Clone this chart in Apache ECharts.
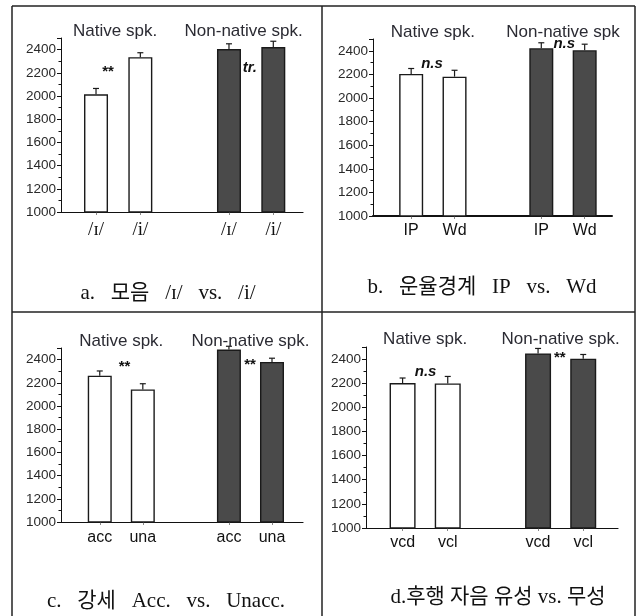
<!DOCTYPE html>
<html>
<head>
<meta charset="utf-8">
<script src="https://cdn.jsdelivr.net/npm/echarts@6/dist/echarts.min.js"></script>
<style>
  html, body { margin: 0; padding: 0; background: #fff; }
  #chart { width: 640px; height: 616px; }
</style>
</head>
<body>
<div id="chart"></div>
<script>
// slot of each bar on the x axis (gap between the two speaker groups)
var slots = [1, 2, 4, 5];

// a. vowel
var labelsA = ['/ɪ/', '/i/', '/ɪ/', '/i/'];
var meansA = [2015, 2335, 2405, 2422];
var errA = [50, 38, 45, 50];
var headersA = ['Native spk.', 'Non-native spk.'];
var headerXA = [1.43, 4.33];
var sigA = ['**', 'tr.'];
var sigPosA = [[1.27, 2204], [4.47, 2239]];

// b. prosodic boundary
var labelsB = ['IP', 'Wd', 'IP', 'Wd'];
var meansB = [2204, 2181, 2422, 2405];
var errB = [46, 54, 46, 51];
var headersB = ['Native spk.', 'Non-native spk'];
var headerXB = [1.5, 4.5];
var sigB = ['n.s', 'n.s'];
var sigPosB = [[1.48, 2286], [4.53, 2456]];

// c. stress
var labelsC = ['acc', 'una', 'acc', 'una'];
var meansC = [2261, 2143, 2487, 2380];
var errC = [41, 49, 28, 32];
var headersC = ['Native spk.', 'Non-native spk.'];
var headerXC = [1.5, 4.5];
var sigC = ['**', '**'];
var sigPosC = [[1.575, 2339], [4.49, 2354]];

// d. following consonant voicing
var labelsD = ['vcd', 'vcl', 'vcd', 'vcl'];
var meansD = [2201, 2198, 2447, 2403];
var errD = [42, 58, 41, 35];
var headersD = ['Native spk.', 'Non-native spk.'];
var headerXD = [1.5, 4.5];
var sigD = ['n.s', '**'];
var sigPosD = [[1.51, 2297], [4.48, 2408]];

var captionWords = [
  ['a.', '모음', '/ɪ/', 'vs.', '/i/'],
  ['b.', '운율경계', 'IP', 'vs.', 'Wd'],
  ['c.', '강세', 'Acc.', 'vs.', 'Unacc.'],
  ['d.후행', '자음', '유성', 'vs.', '무성']
];

var panels = [
  { labels: labelsA, means: meansA, err: errA, headers: headersA, headerX: headerXA, sig: sigA, sigPos: sigPosA,
    grid: { left: 61, top: 38, width: 242, height: 174 }, xMin: 0.21, xMax: 5.67, barW: 24,
    labelFont: { fontFamily: "'Liberation Serif', 'DejaVu Serif', serif", fontSize: 19, margin: 9 },
    caption: { x: 168, y: 293, gap: ' \u2002' } },
  { labels: labelsB, means: meansB, err: errB, headers: headersB, headerX: headerXB, sig: sigB, sigPos: sigPosB,
    grid: { left: 373, top: 39, width: 239, height: 177 }, xMin: 0.12, xMax: 5.63, barW: 24,
    labelFont: { fontFamily: "'Liberation Sans', Arial, sans-serif", fontSize: 16, margin: 7 },
    caption: { x: 482, y: 287, gap: ' \u2002' } },
  { labels: labelsC, means: meansC, err: errC, headers: headersC, headerX: headerXC, sig: sigC, sigPos: sigPosC,
    grid: { left: 61, top: 348, width: 242, height: 174 }, xMin: 0.10, xMax: 5.72, barW: 24,
    labelFont: { fontFamily: "'Liberation Sans', Arial, sans-serif", fontSize: 16, margin: 8 },
    caption: { x: 166, y: 601, gap: ' \u2002' } },
  { labels: labelsD, means: meansD, err: errD, headers: headersD, headerX: headerXD, sig: sigD, sigPos: sigPosD,
    grid: { left: 366, top: 347, width: 252, height: 181 }, xMin: 0.19, xMax: 5.77, barW: 26,
    labelFont: { fontFamily: "'Liberation Sans', Arial, sans-serif", fontSize: 16, margin: 7 },
    caption: { x: 498, y: 597, gap: ' ' } }
];

var WHITE = '#ffffff', DARK = '#4a4a4a';
var grids = [], xAxes = [], yAxes = [], series = [], graphics = [];

panels.forEach(function (p, i) {
  grids.push(p.grid);
  xAxes.push({
    type: 'value', gridIndex: i, min: p.xMin, max: p.xMax,
    splitLine: { show: false },
    axisLine: { show: true, onZero: false, lineStyle: { color: '#111', width: i === 1 ? 2 : 1.2 } },
    axisTick: { show: true, customValues: slots, length: 3, lineStyle: { color: '#888' } },
    axisLabel: {
      customValues: slots, color: '#111',
      fontFamily: p.labelFont.fontFamily, fontSize: p.labelFont.fontSize, margin: p.labelFont.margin,
      formatter: function (v) { var k = slots.indexOf(v); return k < 0 ? '' : p.labels[k]; }
    }
  });
  yAxes.push({
    type: 'value', gridIndex: i, min: 1000, max: 2500, interval: 200,
    splitLine: { show: false },
    axisLine: { show: true, lineStyle: { color: '#111', width: 1 } },
    axisTick: { show: true, length: 4, lineStyle: { color: '#111' } },
    minorTick: { show: true, splitNumber: 2, length: 2.5, lineStyle: { color: '#111' } },
    axisLabel: {
      color: '#2a2a2a', fontSize: 13.5, margin: 5,
      fontFamily: "'Liberation Sans', Arial, sans-serif", showMaxLabel: false,
      formatter: function (v) { return String(v); }
    }
  });

  series.push({
    type: 'bar', xAxisIndex: i, yAxisIndex: i, barWidth: p.barW,
    data: p.means.map(function (m, k) {
      return {
        value: [slots[k], m],
        itemStyle: { color: k < 2 ? WHITE : DARK, borderColor: '#1a1a1a', borderWidth: 1.4 }
      };
    }),
    z: 2
  });

  series.push({
    type: 'custom', xAxisIndex: i, yAxisIndex: i, z: 3,
    data: p.means.map(function (m, k) { return [slots[k], m, p.err[k]]; }),
    renderItem: function (params, api) {
      var x = api.value(0), y = api.value(1), e = api.value(2);
      var a = api.coord([x, y]), b = api.coord([x, y + e]);
      var st = { stroke: '#1a1a1a', lineWidth: 1.2 };
      return { type: 'group', children: [
        { type: 'line', shape: { x1: a[0], y1: a[1], x2: b[0], y2: b[1] }, style: st },
        { type: 'line', shape: { x1: b[0] - 3, y1: b[1], x2: b[0] + 3, y2: b[1] }, style: st }
      ] };
    }
  });

  // group headers above each pair
  series.push({
    type: 'custom', xAxisIndex: i, yAxisIndex: i, z: 4, clip: false,
    data: p.headerX.map(function (c) { return [c, 2560]; }),
    renderItem: function (params, api) {
      var pt = api.coord([api.value(0), api.value(1)]);
      return { type: 'text', x: pt[0], y: pt[1], style: {
        text: p.headers[params.dataIndex], fill: '#2b2b33', align: 'center', verticalAlign: 'middle',
        font: "17px 'Liberation Sans', Arial, sans-serif" } };
    }
  });

  // significance marks
  series.push({
    type: 'custom', xAxisIndex: i, yAxisIndex: i, z: 5, clip: false,
    data: p.sigPos,
    renderItem: function (params, api) {
      var pt = api.coord([api.value(0), api.value(1)]);
      var t = p.sig[params.dataIndex];
      var font = t === '**' ? "bold 15px 'Liberation Sans', Arial, sans-serif"
                            : "italic bold 15px 'Liberation Sans', Arial, sans-serif";
      return { type: 'text', x: pt[0], y: pt[1], style: {
        text: t, fill: '#111', align: 'center', verticalAlign: 'middle', font: font } };
    }
  });

  graphics.push({
    type: 'text', x: p.caption.x, y: p.caption.y, z: 10,
    style: { text: captionWords[i].join(p.caption.gap), fill: '#111', align: 'center', verticalAlign: 'middle',
      font: "21px 'Liberation Serif', 'Times New Roman', 'Noto Sans CJK KR', serif" }
  });
});

// table borders
var bs = { stroke: '#222', lineWidth: 1.5 };
[[12, 6, 635, 6], [12, 6, 12, 640], [635, 6, 635, 640], [322, 6, 322, 640], [12, 312, 635, 312]]
  .forEach(function (l) {
    graphics.push({ type: 'line', shape: { x1: l[0], y1: l[1], x2: l[2], y2: l[3] }, style: bs, z: 10 });
  });

var chart = echarts.init(document.getElementById('chart'), null, { renderer: 'canvas' });
chart.setOption({
  backgroundColor: '#fff',
  animation: false,
  grid: grids,
  xAxis: xAxes,
  yAxis: yAxes,
  series: series,
  graphic: graphics
});
</script>
</body>
</html>
